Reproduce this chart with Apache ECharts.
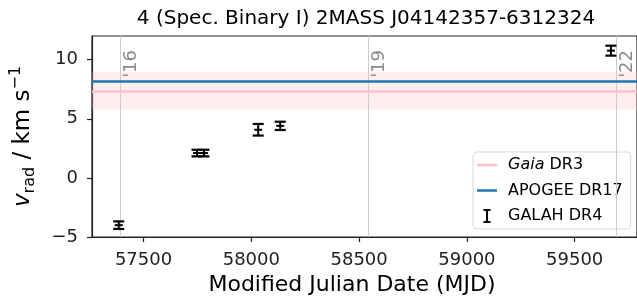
<!DOCTYPE html>
<html>
<head>
<meta charset="utf-8">
<script src="https://cdn.jsdelivr.net/npm/echarts@6/dist/echarts.min.js"></script>
<style>
  html, body { margin: 0; padding: 0; background: #fff; }
  #chart { width: 637px; height: 308px; }
</style>
</head>
<body>
<div id="chart"></div>
<script>
// GALAH DR4 epochs
const galahMjd = [57385, 57748, 57780, 58032, 58134, 59668];
const galahRv = [-4.0, 2.1, 2.1, 4.07, 4.4, 10.76];
const galahErr = [0.32, 0.28, 0.28, 0.49, 0.35, 0.42];

// single-value surveys
const gaiaRv = 7.36;
const gaiaErr = 1.58;
const apogeeRv = 8.17;

// year markers
const yearMjd = [57393, 58541, 59693];
const yearLabels = ["'16", "'19", "'22"];

const xTicks = [57500, 58000, 58500, 59000, 59500];
const yTicks = [-5, 0, 5, 10];

const FONT = "DejaVu Sans";
const linePath = "path://M0,0H20V2.5H0Z";
const errPath = "path://M0,0H7V2H4.5V12H7V14H0V12H2.5V2H0Z";

// matplotlib style numbers: no thousands separator, real minus sign
const fmt = (v) => String(v).replace("-", "\u2212");

const chart = echarts.init(document.getElementById("chart"));

const option = {
  animation: false,
  textStyle: { fontFamily: FONT },
  title: {
    text: "4 (Spec. Binary I) 2MASS J04142357-6312324",
    left: 361,
    textAlign: "center",
    top: 4,
    textStyle: { fontFamily: FONT, fontSize: 20, fontWeight: "normal", color: "#000" },
  },
  grid: {
    left: 87,
    right: -2,
    top: 36,
    bottom: 71,
    show: true,
    borderColor: "#222",
    borderWidth: 1.2,
  },
  legend: {
    orient: "vertical",
    left: 473,
    top: 152,
    padding: [4, 8, 4, 4],
    itemWidth: 20,
    itemHeight: 14,
    itemGap: 7.5,
    borderColor: "#d8d8d8",
    borderWidth: 1,
    borderRadius: 4,
    backgroundColor: "rgba(255,255,255,0.85)",
    data: [
      { name: "Gaia DR3", icon: linePath },
      { name: "APOGEE DR17", icon: linePath },
      { name: "GALAH DR4", icon: errPath },
    ],
    formatter: (name) => (name === "Gaia DR3" ? "{i|Gaia} DR3" : name),
    textStyle: {
      fontFamily: FONT,
      fontSize: 16,
      lineHeight: 18,
      color: "#000",
      padding: [0, 0, 0, 6],
      rich: { i: { fontFamily: FONT, fontSize: 16, fontStyle: "italic", color: "#000" } },
    },
  },
  xAxis: {
    type: "value",
    min: 57261,
    max: 59789,
    name: "Modified Julian Date (MJD)",
    nameLocation: "middle",
    nameGap: 32,
    nameTextStyle: { fontFamily: FONT, fontSize: 22, color: "#000", padding: [0, 25, 0, 0] },
    splitLine: { show: false },
    axisLine: { onZero: false, lineStyle: { color: "#222", width: 1.2 } },
    axisTick: { length: 5, lineStyle: { color: "#222", width: 1.2 }, customValues: xTicks },
    axisLabel: { fontFamily: FONT, fontSize: 18, color: "#222", margin: 14, customValues: xTicks, formatter: fmt },
  },
  yAxis: {
    type: "value",
    min: -5,
    max: 12,
    name: "{v|v}{sub|rad}{n| / km s}{sup|\u22121}",
    nameLocation: "middle",
    nameRotate: 90,
    nameGap: 54,
    nameTextStyle: {
      fontFamily: FONT,
      fontSize: 22,
      color: "#000",
      rich: {
        v: { fontFamily: FONT, fontSize: 23, fontStyle: "italic", lineHeight: 30, color: "#000" },
        n: { fontFamily: FONT, fontSize: 23, lineHeight: 30, color: "#000" },
        sub: { fontFamily: FONT, fontSize: 16, lineHeight: 15, verticalAlign: "bottom", color: "#000" },
        sup: { fontFamily: FONT, fontSize: 16, lineHeight: 15, verticalAlign: "top", color: "#000" },
      },
    },
    splitLine: { show: false },
    axisLine: { show: true, onZero: false, lineStyle: { color: "#222", width: 1.2 } },
    axisTick: { show: true, length: 5, lineStyle: { color: "#222", width: 1.2 }, customValues: yTicks },
    axisLabel: { fontFamily: FONT, fontSize: 18, color: "#222", margin: 14, customValues: yTicks, formatter: fmt },
  },
  series: [
    {
      name: "years",
      type: "line",
      data: [],
      z: 1,
      markLine: {
        silent: true,
        symbol: "none",
        lineStyle: { color: "#cccccc", width: 1, type: "solid" },
        label: {
          show: true,
          position: "insideEndBottom",
          distance: [14, 2],
          fontFamily: FONT,
          fontSize: 18,
          color: "#8a8a8a",
          formatter: (p) => yearLabels[p.dataIndex],
        },
        data: yearMjd.map((m) => ({ xAxis: m })),
      },
    },
    {
      name: "Gaia DR3",
      type: "line",
      data: [],
      color: "#ffc0cb",
      z: 2,
      markArea: {
        silent: true,
        itemStyle: { color: "rgba(255,192,203,0.3)" },
        data: [[{ yAxis: gaiaRv - gaiaErr }, { yAxis: gaiaRv + gaiaErr }]],
      },
      markLine: {
        silent: true,
        symbol: "none",
        label: { show: false },
        lineStyle: { color: "#ffc0cb", width: 2.5, type: "solid" },
        data: [{ yAxis: gaiaRv }],
      },
    },
    {
      name: "APOGEE DR17",
      type: "line",
      data: [],
      color: "#1f77b4",
      z: 3,
      markLine: {
        silent: true,
        symbol: "none",
        label: { show: false },
        lineStyle: { color: "#1f77b4", width: 2.5, type: "solid" },
        data: [{ yAxis: apogeeRv }],
      },
    },
    {
      name: "GALAH DR4",
      type: "custom",
      z: 5,
      itemStyle: { color: "#000" },
      data: galahMjd.map((m, i) => [m, galahRv[i], galahErr[i]]),
      encode: { x: 0, y: 1 },
      renderItem: function (params, api) {
        const x = api.value(0);
        const y = api.value(1);
        const e = api.value(2);
        const top = api.coord([x, y + e]);
        const bot = api.coord([x, y - e]);
        const mid = api.coord([x, y]);
        const hw = 5.5;
        const thin = { stroke: "#000", lineWidth: 2 };
        const thick = { stroke: "#000", lineWidth: 2.2 };
        return {
          type: "group",
          children: [
            { type: "line", shape: { x1: top[0], y1: top[1], x2: bot[0], y2: bot[1] }, style: thin },
            { type: "line", shape: { x1: top[0] - hw, y1: top[1], x2: top[0] + hw, y2: top[1] }, style: thick },
            { type: "line", shape: { x1: bot[0] - hw, y1: bot[1], x2: bot[0] + hw, y2: bot[1] }, style: thick },
            { type: "line", shape: { x1: mid[0] - 4, y1: mid[1], x2: mid[0] + 4, y2: mid[1] }, style: thin },
          ],
        };
      },
    },
  ],
};

chart.setOption(option);
</script>
</body>
</html>
